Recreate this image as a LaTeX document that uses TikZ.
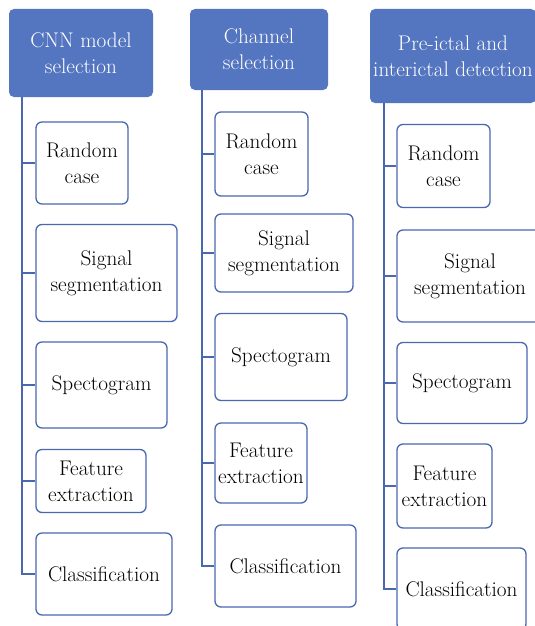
\documentclass[tikz,border=0pt]{standalone}
\definecolor{hdrblue}{HTML}{5475C0}
\definecolor{lineblue}{HTML}{4A68B0}
\tikzset{
  hdr/.style={rectangle, rounded corners=5pt, fill=hdrblue, draw=none, text=white,
    align=center, inner sep=0pt, font=\fontsize{21.2}{26}\selectfont},
  stepbox/.style={rectangle, rounded corners=6pt, draw=lineblue, line width=1.3pt, fill=white,
    align=center, inner sep=0pt, font=\fontsize{21.2}{26}\selectfont},
  conn/.style={draw=lineblue, line width=1.3pt},
}
\begin{document}
\begin{tikzpicture}[x=1pt,y=-1pt]
\useasboundingbox (0,0) rectangle (535,626);
\clip (0,0) rectangle (535,626);
\fill[white] (0,0) rectangle (535,626);

% Column 1
\node[hdr, minimum width=144pt, minimum height=88pt] (h1) at (81,53) {CNN model\\selection};
\node[stepbox, minimum width=92pt, minimum height=82pt] (r1) at (82,163) {Random\\case};
\node[stepbox, minimum width=141pt, minimum height=97pt] (s1) at (106.5,273) {Signal\\segmentation};
\node[stepbox, minimum width=131pt, minimum height=86pt] (p1) at (101.5,385) {Spectogram};
\node[stepbox, minimum width=110pt, minimum height=63pt] (f1) at (91,481) {Feature\\extraction};
\node[stepbox, minimum width=136pt, minimum height=82pt] (c1) at (104,574) {Classification};
\coordinate (t1) at (22,97);
\draw[conn] (t1) |- (c1.west);
\foreach \n in {r1,s1,p1,f1} \draw[conn] (\n.west) -- (\n.west -| t1);

% Column 2
\node[hdr, minimum width=138pt, minimum height=81pt] (h2) at (259,49.5) {Channel\\selection};
\node[stepbox, minimum width=93pt, minimum height=84pt] (r2) at (261.5,154) {Random\\case};
\node[stepbox, minimum width=138pt, minimum height=78pt] (s2) at (284,253) {Signal\\segmentation};
\node[stepbox, minimum width=132pt, minimum height=87pt] (p2) at (281,357) {Spectogram};
\node[stepbox, minimum width=92pt, minimum height=80pt] (f2) at (261,463) {Feature\\extraction};
\node[stepbox, minimum width=141pt, minimum height=82pt] (c2) at (285.5,566) {Classification};
\coordinate (t2) at (202,90);
\draw[conn] (t2) |- (c2.west);
\foreach \n in {r2,s2,p2,f2} \draw[conn] (\n.west) -- (\n.west -| t2);

% Column 3
\node[hdr, minimum width=166pt, minimum height=94pt] (h3) at (453,56) {Pre-ictal and\\interictal detection};
\node[stepbox, minimum width=93pt, minimum height=83pt] (r3) at (443.5,166) {Random\\case};
\node[stepbox, minimum width=146pt, minimum height=92pt] (s3) at (470,276) {Signal\\segmentation};
\node[stepbox, minimum width=130pt, minimum height=81pt] (p3) at (462,383) {Spectogram};
\node[stepbox, minimum width=95pt, minimum height=84pt] (f3) at (444.5,486) {Feature\\extraction};
\node[stepbox, minimum width=129pt, minimum height=82pt] (c3) at (461.5,589) {Classification};
\coordinate (t3) at (384,103);
\draw[conn] (t3) |- (c3.west);
\foreach \n in {r3,s3,p3,f3} \draw[conn] (\n.west) -- (\n.west -| t3);
\end{tikzpicture}
\end{document}
